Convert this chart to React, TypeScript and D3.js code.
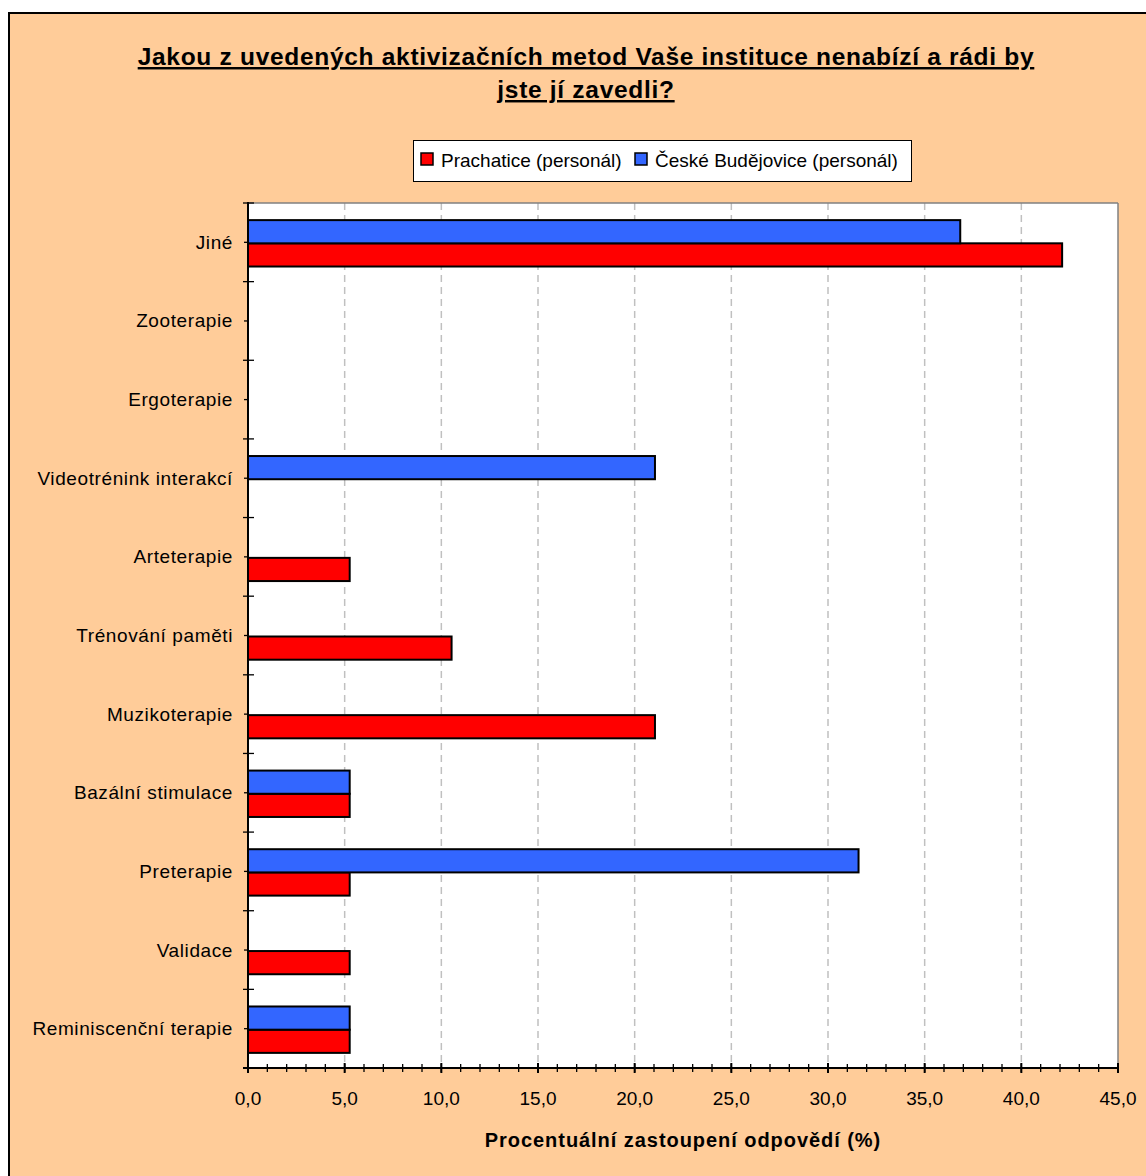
import React from "react";
import * as d3 from "d3";

const categories = [
  "Reminiscenční terapie",
  "Validace",
  "Preterapie",
  "Bazální stimulace",
  "Muzikoterapie",
  "Trénování paměti",
  "Arteterapie",
  "Videotrénink interakcí",
  "Ergoterapie",
  "Zooterapie",
  "Jiné",
];
const seriesNames = ["Prachatice (personál)", "České Budějovice (personál)"];
const prachatice = [5.26, 5.26, 5.26, 5.26, 21.05, 10.53, 5.26, 0, 0, 0, 42.11];
const budejovice = [5.26, 0, 31.58, 5.26, 0, 0, 0, 21.05, 0, 0, 36.84];
const seriesColors = ["#FF0000", "#3366FF"];
const xTicks = [0, 5, 10, 15, 20, 25, 30, 35, 40, 45];
const titleLines = [
  "Jakou z uvedených aktivizačních metod Vaše instituce nenabízí a rádi by",
  "jste jí zavedli?",
];
const xTitle = "Procentuální zastoupení odpovědí (%)";

export default function App() {
  const plot = { left: 248, right: 1118, top: 203, bottom: 1068 };
  const x = d3.scaleLinear().domain([0, 45]).range([plot.left, plot.right]);
  const y = d3
    .scaleBand<string>()
    .domain([...categories].reverse())
    .range([plot.top, plot.bottom])
    .padding(0);
  const bw = y.bandwidth();
  const barH = bw * 0.295;
  const series = [prachatice, budejovice];
  const fmt = (v: number) => d3.format(".1f")(v).replace(".", ",");
  const font = "Arial, 'Liberation Sans', Helvetica, sans-serif";
  const minorTicks = d3.range(0, 45.001, 1);
  const boundaries = d3.range(0, categories.length + 1).map((i) => plot.top + i * bw);

  return (
    <svg
      width={1146}
      height={1176}
      style={{ position: "absolute", left: 0, top: 0 }}
      fontFamily={font}
    >
      <rect x={0} y={0} width={1146} height={1176} fill="#ffffff" />
      <rect x={9} y={13} width={1160} height={1180} fill="#FFCC99" stroke="#000" strokeWidth={2} />
      {titleLines.map((t, i) => (
        <text
          key={i}
          x={586}
          y={65 + i * 33}
          textAnchor="middle"
          fontSize={24.5}
          fontWeight="bold"
          letterSpacing={0.7}
          textDecoration="underline"
          fill="#000"
        >
          {t}
        </text>
      ))}
      {/* legend */}
      <rect x={413.5} y={140.5} width={498} height={41} fill="#fff" stroke="#000" strokeWidth={1} />
      {seriesNames.map((n, i) => {
        const lx = i === 0 ? 421 : 635;
        return (
          <g key={n}>
            <rect x={lx} y={153} width={12} height={12} fill={seriesColors[i]} stroke="#000" strokeWidth={1.5} />
            <text x={lx + 20} y={166.5} fontSize={19} fill="#000">
              {n}
            </text>
          </g>
        );
      })}
      {/* plot area */}
      <rect x={plot.left} y={plot.top} width={plot.right - plot.left} height={plot.bottom - plot.top} fill="#fff" />
      {xTicks.slice(1, -1).map((t) => (
        <line
          key={t}
          x1={x(t)}
          x2={x(t)}
          y1={plot.top}
          y2={plot.bottom}
          stroke="#C0C0C0"
          strokeWidth={1.5}
          strokeDasharray="7,5"
        />
      ))}
      <line x1={plot.left} x2={plot.right} y1={plot.top} y2={plot.top} stroke="#808080" strokeWidth={1.5} />
      <line x1={plot.right} x2={plot.right} y1={plot.top} y2={plot.bottom} stroke="#808080" strokeWidth={1.5} />
      {/* bars */}
      {categories.map((c, ci) => {
        const cy = (y(c) as number) + bw / 2;
        return series.map((s, si) => {
          const v = s[ci];
          if (v <= 0) return null;
          const by = si === 0 ? cy + 1 : cy + 1 - barH;
          return (
            <rect
              key={c + si}
              x={x(0)}
              y={by}
              width={x(v) - x(0)}
              height={barH}
              fill={seriesColors[si]}
              stroke="#000"
              strokeWidth={2}
            />
          );
        });
      })}
      {/* y axis */}
      <line x1={plot.left} x2={plot.left} y1={plot.top - 1} y2={plot.bottom + 5} stroke="#000" strokeWidth={2} />
      {boundaries.map((b, i) => (
        <line key={i} x1={243} x2={254} y1={b} y2={b} stroke="#000" strokeWidth={1.3} />
      ))}
      {categories.map((c) => {
        const cy = (y(c) as number) + bw / 2;
        return (
          <g key={c}>
            <line x1={244} x2={248} y1={cy} y2={cy} stroke="#000" strokeWidth={1.3} />
            <text x={233} y={cy + 6.5} textAnchor="end" fontSize={19} letterSpacing={0.6} fill="#000">
              {c}
            </text>
          </g>
        );
      })}
      {/* x axis */}
      <line x1={plot.left - 5} x2={plot.right} y1={plot.bottom} y2={plot.bottom} stroke="#000" strokeWidth={2} />
      {minorTicks.map((t) => (
        <line key={"m" + t} x1={x(t)} x2={x(t)} y1={plot.bottom - 4} y2={plot.bottom + 4} stroke="#000" strokeWidth={1.3} />
      ))}
      {xTicks.map((t) => (
        <g key={t}>
          <line x1={x(t)} x2={x(t)} y1={plot.bottom - 5} y2={plot.bottom + 5} stroke="#000" strokeWidth={2} />
          <text x={x(t)} y={1105} textAnchor="middle" fontSize={19} fill="#000">
            {fmt(t)}
          </text>
        </g>
      ))}
      <text x={683} y={1147} textAnchor="middle" fontSize={20} fontWeight="bold" letterSpacing={0.95} fill="#000">
        {xTitle}
      </text>
    </svg>
  );
}
